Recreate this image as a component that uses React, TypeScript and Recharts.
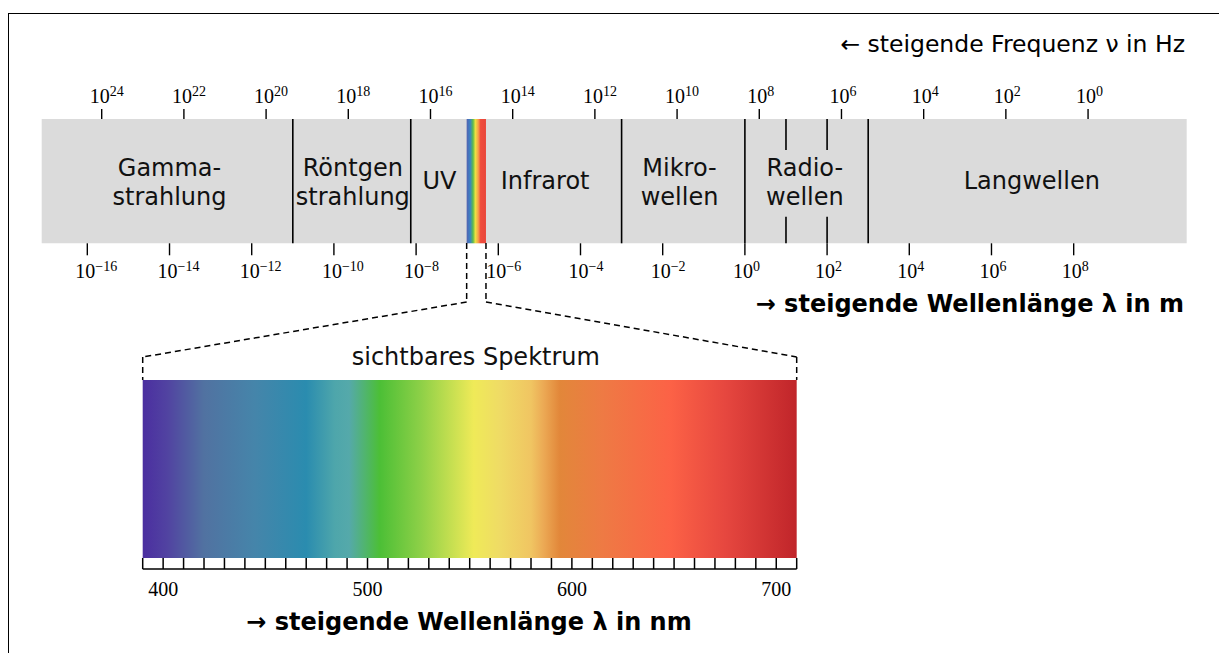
import React from 'react'
import {
  ComposedChart,
  XAxis,
  YAxis,
  Scatter,
  ReferenceArea,
  ReferenceLine,
  Customized,
} from 'recharts'

// log10 of wavelength in metres, as labelled under the band
const waveExponents = [-16, -14, -12, -10, -8, -6, -4, -2, 0, 2, 4, 6, 8]
// frequency exponents labelled above the band
const freqExponents = [24, 22, 20, 18, 16, 14, 12, 10, 8, 6, 4, 2, 0]
// log10 λ where 1 Hz sits in the picture
const FREQ_SHIFT = 8.35

// region borders (log10 λ)
const regionEdges = [-11, -8.13, -3, 0, 3]
const radioSubEdges = [1, 2]
const visibleBand = [-6.77, -6.3]

const regionNames = [
  'Gamma-\nstrahlung',
  'Röntgen\nstrahlung',
  'UV',
  'Infrarot',
  'Mikro-\nwellen',
  'Radio-\nwellen',
  'Langwellen',
]
const regionCenters = [-14, -9.54, -7.43, -4.86, -1.59, 1.46, 6.98]

// visible spectrum in nm
const nmTicks = [
  390, 400, 410, 420, 430, 440, 450, 460, 470, 480, 490, 500, 510, 520, 530, 540, 550,
  560, 570, 580, 590, 600, 610, 620, 630, 640, 650, 660, 670, 680, 690, 700, 710,
]
const nmLabels = [400, 500, 600, 700]
const nmRange = [390, 710]

const spectrumNm = [390, 402, 420, 445, 470, 484, 491, 506, 526, 552, 565, 580, 586, 594, 615, 648, 675, 710]
const spectrumColors = [
  '#4b2ea0', '#5143a1', '#5172a1', '#4585aa', '#2a8caf', '#4ea6ab', '#55a9aa', '#4cbf36',
  '#8dd047', '#efea58', '#efdb65', '#f0c562', '#ecaa55', '#e2873a', '#ee7a44', '#fc6246',
  '#e6473f', '#c0252a',
]

const stripeOffsets = [0, 0.18, 0.33, 0.45, 0.6, 0.72, 1]
const stripeColors = ['#5462b0', '#3a82c4', '#5cbc4c', '#ece242', '#f5a048', '#ef4c3c', '#e8463a']

const W = 1219
const H = 653
const MARGIN_X = { left: 41.7, right: 32.3 }
const WAVE_DOMAIN: [number, number] = [-17.11, 10.75]
const NM_DOMAIN: [number, number] = [340.58, 900.83]

const SANS = 'DejaVu Sans'
const SERIF = 'Liberation Serif'

// same plot width in both charts, so a wavelength maps onto the nm axis linearly
const waveToNm = (w: number) =>
  NM_DOMAIN[0] +
  ((w - WAVE_DOMAIN[0]) / (WAVE_DOMAIN[1] - WAVE_DOMAIN[0])) * (NM_DOMAIN[1] - NM_DOMAIN[0])

const exponentText = (e: number) => (e < 0 ? `\u2212${Math.abs(e)}` : `${e}`)

const PowerTick = ({ x, y, payload, top }: any) => {
  const e = top ? Math.round(FREQ_SHIFT - payload.value) : Math.round(payload.value)
  return (
    <text x={x - 12} y={top ? y - 6 : y + 23} fontFamily={SERIF} fontSize={20} fill="#000">
      10
      <tspan dy={-7} fontSize={14}>
        {exponentText(e)}
      </tspan>
    </text>
  )
}

const NmTick = ({ x, y, payload }: any) => {
  if (!nmLabels.includes(payload.value)) return <g />
  return (
    <text x={x} y={y + 38} textAnchor="middle" fontFamily={SERIF} fontSize={20} fill="#000">
      {payload.value}
    </text>
  )
}

const RegionLabel = ({ cx, cy, payload }: any) => {
  const lines = String(payload.name).split('\n')
  return (
    <text textAnchor="middle" fontFamily={SANS} fontSize={24} fill="#111">
      {lines.map((l: string, i: number) => (
        <tspan key={i} x={cx} y={lines.length === 1 ? cy + 8 : cy - 5 + i * 29}>
          {l}
        </tspan>
      ))}
    </text>
  )
}

const TopTitles = () => (
  <g>
    <text x={1185} y={52} textAnchor="end" fontFamily={SANS} fontSize={23.5} fill="#000">
      ← steigende Frequenz ν in Hz
    </text>
    <text x={1184} y={312} textAnchor="end" fontFamily={SANS} fontWeight="bold" fontSize={24} fill="#000">
      → steigende Wellenlänge λ in m
    </text>
  </g>
)

const BottomTitle = () => (
  <text x={469} y={630} textAnchor="middle" fontFamily={SANS} fontWeight="bold" fontSize={24} fill="#000">
    → steigende Wellenlänge λ in nm
  </text>
)

// vertical rows of the lower chart (0 = ruler line, 326 = band bottom)
const ROW = { stripe: 326, elbow: 267, fan: 212, top: 189, bottom: 11, rule: 0, caption: 204 }

const dash = { stroke: '#000', strokeWidth: 1.5, strokeDasharray: '6 4' }

export default function App() {
  const visNm = visibleBand.map(waveToNm)
  const spectrumSpan = nmRange[1] - nmRange[0]
  const regionRows = regionNames.map((name, i) => ({ x: regionCenters[i], y: 50, name }))
  const captionRows = [{ x: 553, y: ROW.caption, name: 'sichtbares Spektrum' }]

  return (
    <div style={{ position: 'absolute', left: 0, top: 0, width: W, height: H, background: '#fff' }}>
      <div
        style={{
          position: 'absolute',
          left: 8,
          top: 13,
          width: W - 8,
          height: H - 13,
          borderTop: '1.5px solid #000',
          borderLeft: '1.5px solid #000',
        }}
      />
      <div style={{ position: 'absolute', left: 0, top: 0 }}>
        <ComposedChart width={W} height={330} data={regionRows} margin={{ top: 0, bottom: 0, ...MARGIN_X }}>
          <defs>
            <linearGradient id="visStripe" x1="0" y1="0" x2="1" y2="0">
              {stripeOffsets.map((o, i) => (
                <stop key={i} offset={o} stopColor={stripeColors[i]} />
              ))}
            </linearGradient>
          </defs>
          <XAxis
            xAxisId="freq"
            dataKey="x"
            orientation="top"
            type="number"
            domain={WAVE_DOMAIN}
            allowDataOverflow
            ticks={freqExponents.map((e) => FREQ_SHIFT - e)}
            interval={0}
            height={119}
            tickSize={10}
            tickMargin={0}
            axisLine={false}
            tickLine={{ stroke: '#000', strokeWidth: 1.4 }}
            tick={(p: any) => <PowerTick {...p} top />}
          />
          <XAxis
            xAxisId="wave"
            dataKey="x"
            orientation="bottom"
            type="number"
            domain={WAVE_DOMAIN}
            allowDataOverflow
            ticks={waveExponents}
            interval={0}
            height={330 - 243.3}
            tickSize={12}
            tickMargin={0}
            axisLine={false}
            tickLine={{ stroke: '#000', strokeWidth: 1.4 }}
            tick={(p: any) => <PowerTick {...p} />}
          />
          <YAxis hide type="number" dataKey="y" domain={[0, 100]} allowDataOverflow />
          <ReferenceArea
            xAxisId="wave"
            x1={WAVE_DOMAIN[0]}
            x2={WAVE_DOMAIN[1]}
            y1={0}
            y2={100}
            fill="#dbdbdb"
            fillOpacity={1}
            stroke="none"
          />
          <ReferenceArea
            xAxisId="wave"
            x1={visibleBand[0]}
            x2={visibleBand[1]}
            y1={0}
            y2={100}
            fill="url(#visStripe)"
            fillOpacity={1}
            stroke="none"
          />
          {regionEdges.map((x) => (
            <ReferenceLine key={x} xAxisId="wave" x={x} stroke="#000" strokeWidth={1.6} />
          ))}
          {radioSubEdges.map((x) => (
            <ReferenceLine
              key={`t${x}`}
              xAxisId="wave"
              segment={[
                { x, y: 100 },
                { x, y: 75 },
              ]}
              stroke="#000"
              strokeWidth={1.6}
            />
          ))}
          {radioSubEdges.map((x) => (
            <ReferenceLine
              key={`b${x}`}
              xAxisId="wave"
              segment={[
                { x, y: 0 },
                { x, y: 21.4 },
              ]}
              stroke="#000"
              strokeWidth={1.6}
            />
          ))}
          <Scatter
            xAxisId="wave"
            dataKey="y"
            data={regionRows}
            isAnimationActive={false}
            shape={(p: any) => <RegionLabel {...p} />}
          />
          <Scatter
            xAxisId="freq"
            dataKey="y"
            data={regionRows}
            isAnimationActive={false}
            shape={() => <g />}
          />
          <Customized component={<TopTitles />} />
        </ComposedChart>
      </div>
      <div style={{ position: 'absolute', left: 0, top: 0 }}>
        <ComposedChart width={W} height={H} data={captionRows} margin={{ top: 243, bottom: 0, ...MARGIN_X }}>
          <defs>
            <linearGradient id="visSpectrum" x1="0" y1="0" x2="1" y2="0">
              {spectrumNm.map((nm, i) => (
                <stop key={nm} offset={(nm - nmRange[0]) / spectrumSpan} stopColor={spectrumColors[i]} />
              ))}
            </linearGradient>
          </defs>
          <XAxis
            xAxisId="nm"
            dataKey="x"
            orientation="bottom"
            type="number"
            domain={NM_DOMAIN}
            allowDataOverflow
            ticks={nmTicks}
            interval={0}
            height={H - 569}
            tickSize={-11}
            tickMargin={0}
            axisLine={false}
            tickLine={{ stroke: '#000', strokeWidth: 1.5 }}
            tick={(p: any) => <NmTick {...p} />}
          />
          <YAxis hide type="number" dataKey="y" domain={[0, 326]} allowDataOverflow />
          <ReferenceArea
            xAxisId="nm"
            x1={nmRange[0]}
            x2={nmRange[1]}
            y1={ROW.bottom}
            y2={ROW.top}
            fill="url(#visSpectrum)"
            fillOpacity={1}
            stroke="none"
          />
          <ReferenceLine
            xAxisId="nm"
            segment={[
              { x: nmRange[0], y: ROW.rule },
              { x: nmRange[1], y: ROW.rule },
            ]}
            stroke="#000"
            strokeWidth={1.5}
          />
          {visNm.map((vx, i) => (
            <React.Fragment key={i}>
              <ReferenceLine
                xAxisId="nm"
                segment={[
                  { x: vx, y: ROW.stripe },
                  { x: vx, y: ROW.elbow },
                ]}
                {...dash}
              />
              <ReferenceLine
                xAxisId="nm"
                segment={[
                  { x: vx, y: ROW.elbow },
                  { x: nmRange[i], y: ROW.fan },
                ]}
                {...dash}
              />
              <ReferenceLine
                xAxisId="nm"
                segment={[
                  { x: nmRange[i], y: ROW.fan },
                  { x: nmRange[i], y: ROW.top },
                ]}
                {...dash}
              />
            </React.Fragment>
          ))}
          <Scatter
            xAxisId="nm"
            dataKey="y"
            data={captionRows}
            isAnimationActive={false}
            shape={(p: any) => (
              <text x={p.cx} y={p.cy} textAnchor="middle" fontFamily={SANS} fontSize={24} fill="#111">
                {p.payload.name}
              </text>
            )}
          />
          <Customized component={<BottomTitle />} />
        </ComposedChart>
      </div>
    </div>
  )
}
